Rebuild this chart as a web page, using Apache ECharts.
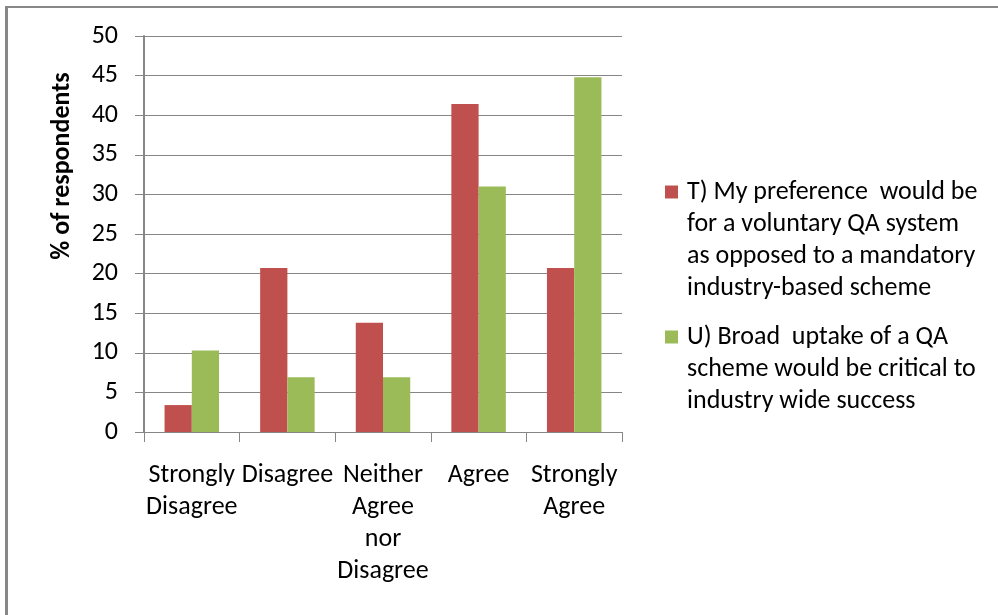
<!DOCTYPE html>
<html>
<head>
<meta charset="utf-8">
<title>QA scheme survey</title>
<style>
html, body { margin: 0; padding: 0; background: #fff; }
#main { width: 998px; height: 615px; }
</style>
<script src="https://cdn.jsdelivr.net/npm/echarts@6/dist/echarts.min.js"></script>
</head>
<body>
<div id="main"></div>
<script>
// categories on the x axis
var categories = ['Strongly\nDisagree', 'Disagree', 'Neither\nAgree\nnor\nDisagree', 'Agree', 'Strongly\nAgree'];
// series names and how the legend wraps them
var seriesNames = [
    'T) My preference  would be for a voluntary QA system as opposed to a mandatory industry-based scheme',
    'U) Broad uptake of a QA scheme would be critical to industry wide success'
];
var legendLinesT = ['T) My preference  would be', 'for a voluntary QA system', 'as opposed to a mandatory', 'industry-based scheme'];
var legendLinesU = ['U) Broad  uptake of a QA', 'scheme would be critical to', 'industry wide success'];
// % of respondents
var valuesT = [3.4, 20.7, 13.8, 41.4, 20.7];
var valuesU = [10.3, 6.9, 6.9, 31.0, 44.8];
// y axis
var yMin = 0;
var yMax = 50;
var yStep = 5;
var yTitle = '% of respondents';

(function (win) {
    var FONT = 'Carlito, Calibri, Lato, sans-serif';
    var FS = 26;
    var RED = '#C0504D';
    var GREEN = '#9BBB59';
    var GRID_GRAY = '#868686';

    var chart = {
        init: function () {
            this.myChart = echarts.init(document.getElementById('main'), null, { renderer: 'canvas' });
            this.myChart.setOption(this.buildOption());
        },
        legendText: function (name) {
            var idx = seriesNames.indexOf(name);
            var lines = idx === 0 ? legendLinesT : legendLinesU;
            var str = '{sq' + idx + '|}{g|}{t|' + lines[0] + '}';
            for (var i = 1; i < lines.length; i++) {
                str += '\n{s|}{t|' + lines[i] + '}';
            }
            return str;
        },
        buildOption: function () {
            var txt = { fontSize: FS, fontFamily: FONT, lineHeight: 32, color: '#000' };
            return {
                backgroundColor: '#fff',
                animation: false,
                grid: { left: 144, top: 36, width: 478, height: 396, containLabel: false },
                legend: {
                    orient: 'vertical',
                    left: 660,
                    top: 176,
                    padding: 0,
                    itemGap: 17,
                    icon: 'none',
                    itemWidth: 0,
                    itemHeight: 0,
                    selectedMode: false,
                    data: seriesNames,
                    formatter: this.legendText,
                    textStyle: {
                        fontSize: FS,
                        fontFamily: FONT,
                        lineHeight: 32,
                        color: '#000',
                        rich: {
                            sq0: { width: 13, height: 13, lineHeight: 32, backgroundColor: RED },
                            sq1: { width: 13, height: 13, lineHeight: 32, backgroundColor: GREEN },
                            g: { width: 9, lineHeight: 32 },
                            s: { width: 22, lineHeight: 32 },
                            t: txt
                        }
                    }
                },
                xAxis: {
                    type: 'category',
                    data: categories,
                    axisLine: { lineStyle: { color: GRID_GRAY, width: 1 } },
                    axisTick: { show: true, length: 10, interval: 0, lineStyle: { color: GRID_GRAY, width: 1 } },
                    axisLabel: { interval: 0, margin: 27, fontSize: FS, fontFamily: FONT, lineHeight: 32, color: '#000' },
                    splitLine: { show: false }
                },
                yAxis: {
                    type: 'value',
                    min: yMin,
                    max: yMax,
                    interval: yStep,
                    axisLine: { show: true, lineStyle: { color: GRID_GRAY, width: 2 } },
                    axisTick: { show: true, length: 9, lineStyle: { color: GRID_GRAY, width: 1 } },
                    axisLabel: { margin: 26, fontSize: FS, fontFamily: FONT, color: '#000' },
                    splitLine: { show: true, lineStyle: { color: GRID_GRAY, width: 1 } }
                },
                series: [{
                    name: seriesNames[0],
                    type: 'bar',
                    data: valuesT,
                    itemStyle: { color: RED },
                    barGap: '0%',
                    barCategoryGap: '43%'
                }, {
                    name: seriesNames[1],
                    type: 'bar',
                    data: valuesU,
                    itemStyle: { color: GREEN },
                    barGap: '0%',
                    barCategoryGap: '43%'
                }],
                graphic: [{
                    type: 'text',
                    x: 62,
                    y: 166,
                    rotation: Math.PI / 2,
                    style: {
                        text: yTitle,
                        font: 'bold 26px ' + FONT,
                        align: 'center',
                        verticalAlign: 'middle',
                        fill: '#000'
                    }
                }, {
                    // frame of the original picture (left and top edges only)
                    type: 'rect',
                    shape: { x: 5, y: 6, width: 3, height: 609 },
                    style: { fill: '#878787' }
                }, {
                    type: 'rect',
                    shape: { x: 5, y: 6, width: 993, height: 2 },
                    style: { fill: '#878787' }
                }]
            };
        }
    };
    chart.init();
})(window);
</script>
</body>
</html>
